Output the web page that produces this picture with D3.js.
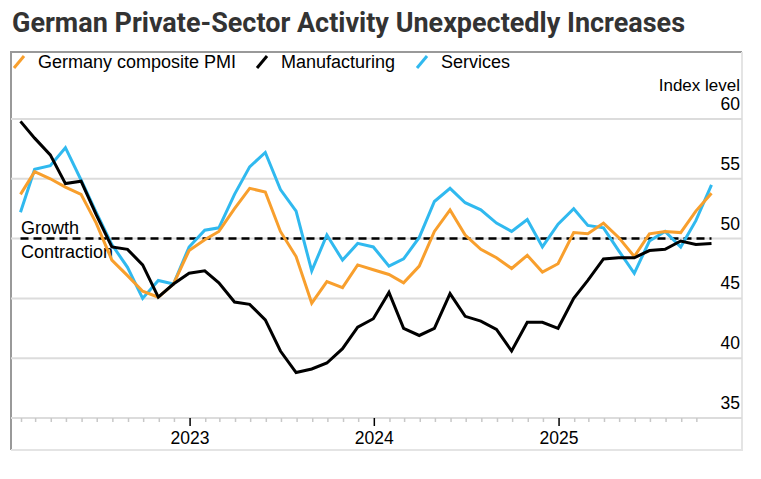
<!DOCTYPE html>
<html>
<head>
<meta charset="utf-8">
<script src="https://cdn.jsdelivr.net/npm/d3@7"></script>
<style>
  body { margin: 0; background: #fff; }
  text { font-family: "Liberation Sans", Arial, sans-serif; }
</style>
</head>
<body>
<div id="chart"></div>
<script>
// ────────────────────────────────────────────────────────────────
// data (monthly, Jan 2022 – Oct 2025)
// ────────────────────────────────────────────────────────────────
const firstMonth = new Date(2022, 0, 1);
const lastMonth  = new Date(2025, 9, 1);

const composite = [
  53.7, 55.6, 55.0, 54.3, 53.7, 51.3, 48.2, 46.9, 45.6, 45.1, 46.2, 49.0,
  49.9, 50.6, 52.5, 54.2, 53.9, 50.6, 48.5, 44.6, 46.4, 45.9, 47.8, 47.4,
  47.0, 46.3, 47.7, 50.6, 52.4, 50.3, 49.1, 48.4, 47.5, 48.6, 47.2, 47.9,
  50.5, 50.4, 51.3, 50.1, 48.5, 50.4, 50.6, 50.5, 52.3, 53.8
];
const manufacturing = [
  59.8, 58.4, 57.0, 54.6, 54.8, 52.0, 49.3, 49.1, 47.8, 45.1, 46.2, 47.1,
  47.3, 46.3, 44.7, 44.5, 43.2, 40.6, 38.8, 39.1, 39.6, 40.8, 42.6, 43.3,
  45.5, 42.5, 41.9, 42.5, 45.4, 43.5, 43.1, 42.4, 40.6, 43.0, 43.0, 42.5,
  45.0, 46.5, 48.3, 48.4, 48.4, 49.0, 49.1, 49.8, 49.5, 49.6
];
const services = [
  52.2, 55.8, 56.1, 57.6, 54.9, 52.2, 49.5, 47.6, 45.0, 46.5, 46.2, 49.3,
  50.7, 50.9, 53.7, 56.0, 57.2, 54.1, 52.3, 47.3, 50.3, 48.2, 49.6, 49.3,
  47.7, 48.3, 50.1, 53.1, 54.2, 53.0, 52.4, 51.3, 50.6, 51.6, 49.3, 51.2,
  52.5, 51.1, 50.9, 49.0, 47.1, 49.8, 50.6, 49.3, 51.5, 54.5
];

const seriesNames  = ["Germany composite PMI", "Manufacturing", "Services"];
const seriesColors = ["#f89f2d", "#000000", "#30b9ef"];
const yTicks = [35, 40, 45, 50, 55, 60];
const threshold = 50;

// ────────────────────────────────────────────────────────────────
// layout
// ────────────────────────────────────────────────────────────────
const W = 761, H = 479;
const frame = { left: 11, top: 52, right: 742, bottom: 450 };

const svg = d3.select("#chart").append("svg")
  .attr("width", W).attr("height", H);

svg.append("rect").attr("width", W).attr("height", H).attr("fill", "#fff");

// month-end dates for each observation
const months = d3.timeMonth.range(firstMonth, d3.timeMonth.offset(lastMonth, 1));
const dates  = months.map(m => d3.timeDay.offset(d3.timeMonth.offset(m, 1), -1));

const x = d3.scaleTime()
  .domain([dates[0], dates[dates.length - 1]])
  .range([20.5, 711.5]);
const y = d3.scaleLinear()
  .domain([35, 60])
  .range([418, 119]);

// title
svg.append("text")
  .attr("x", 12).attr("y", 32)
  .attr("textLength", 673).attr("lengthAdjust", "spacingAndGlyphs")
  .style("font-family", "Roboto, 'Liberation Sans', sans-serif")
  .style("font-weight", 700)
  .style("font-size", "28px")
  .attr("fill", "#333")
  .text("German Private-Sector Activity Unexpectedly Increases");

// frame
svg.append("line")
  .attr("x1", frame.left).attr("x2", frame.right)
  .attr("y1", frame.top).attr("y2", frame.top)
  .attr("stroke", "#999").attr("stroke-width", 2);
svg.append("line")
  .attr("x1", frame.left).attr("x2", frame.left)
  .attr("y1", frame.top - 1).attr("y2", frame.bottom)
  .attr("stroke", "#999").attr("stroke-width", 2);
svg.append("line")
  .attr("x1", frame.right).attr("x2", frame.right)
  .attr("y1", frame.top).attr("y2", frame.bottom)
  .attr("stroke", "#e4e4e4").attr("stroke-width", 2);
svg.append("line")
  .attr("x1", frame.left).attr("x2", frame.right + 1)
  .attr("y1", frame.bottom).attr("y2", frame.bottom)
  .attr("stroke", "#e4e4e4").attr("stroke-width", 2);

// legend
const legendX = [13, 256, 416];
seriesNames.forEach((name, i) => {
  const g = svg.append("g").attr("transform", `translate(${legendX[i]},0)`);
  g.append("line")
    .attr("x1", 1).attr("y1", 68).attr("x2", 11).attr("y2", 56)
    .attr("stroke", seriesColors[i]).attr("stroke-width", 3);
  g.append("text")
    .attr("x", 25).attr("y", 68)
    .style("font-size", "18px")
    .attr("fill", "#000")
    .text(name);
});

// gridlines + y labels
svg.append("g")
  .selectAll("line")
  .data(yTicks)
  .join("line")
    .attr("x1", frame.left).attr("x2", frame.right)
    .attr("y1", d => y(d)).attr("y2", d => y(d))
    .attr("stroke", "#dcdcdc").attr("stroke-width", 2);

svg.append("g")
  .selectAll("text")
  .data(yTicks)
  .join("text")
    .attr("x", 740).attr("y", d => y(d) - 9)
    .attr("text-anchor", "end")
    .style("font-size", "17.5px")
    .text(d => d);

svg.append("text")
  .attr("x", 740).attr("y", 91)
  .attr("text-anchor", "end")
  .style("font-size", "17px")
  .text("Index level");

// x axis: monthly minor ticks, yearly major ticks
const minor = d3.timeMonth.range(d3.timeMonth.offset(firstMonth, 1), lastMonth.getTime() + 1)
  .filter(d => d.getMonth() !== 0);
const major = d3.timeYear.range(new Date(2023, 0, 1), new Date(2025, 11, 1));

svg.append("g")
  .attr("transform", `translate(0,${y(35)})`)
  .call(d3.axisBottom(x).tickValues(minor).tickSize(4).tickFormat(""))
  .call(g => g.select(".domain").remove())
  .call(g => g.selectAll("line").attr("stroke", "#c8c8c8").attr("stroke-width", 1.5));

svg.append("g")
  .attr("transform", `translate(0,${y(35)})`)
  .call(d3.axisBottom(x).tickValues(major).tickSize(8).tickPadding(6).tickFormat(d3.timeFormat("%Y")))
  .call(g => g.select(".domain").remove())
  .call(g => g.selectAll("line").attr("stroke", "#000").attr("stroke-width", 1.5))
  .call(g => g.selectAll("text")
    .style("font-family", "'Liberation Sans', Arial, sans-serif")
    .style("font-size", "17.5px").attr("fill", "#000"));

// threshold line
svg.append("line")
  .attr("x1", x(dates[0])).attr("x2", x(dates[dates.length - 1]))
  .attr("y1", y(threshold)).attr("y2", y(threshold))
  .attr("stroke", "#000").attr("stroke-width", 2.5)
  .attr("stroke-dasharray", "8,5");

svg.append("text")
  .attr("x", 21).attr("y", y(threshold) - 5)
  .style("font-size", "18px")
  .text("Growth");
svg.append("text")
  .attr("x", 21).attr("y", y(threshold) + 19)
  .style("font-size", "18px")
  .text("Contraction");

// series lines
const line = d3.line()
  .x((d, i) => x(dates[i]))
  .y(d => y(d));

const drawOrder = [
  { values: services,      color: seriesColors[2] },
  { values: composite,     color: seriesColors[0] },
  { values: manufacturing, color: seriesColors[1] }
];
drawOrder.forEach(s => {
  svg.append("path")
    .datum(s.values)
    .attr("fill", "none")
    .attr("stroke", s.color)
    .attr("stroke-width", 3)
    .attr("stroke-linejoin", "miter")
    .attr("d", line);
});
</script>
</body>
</html>
